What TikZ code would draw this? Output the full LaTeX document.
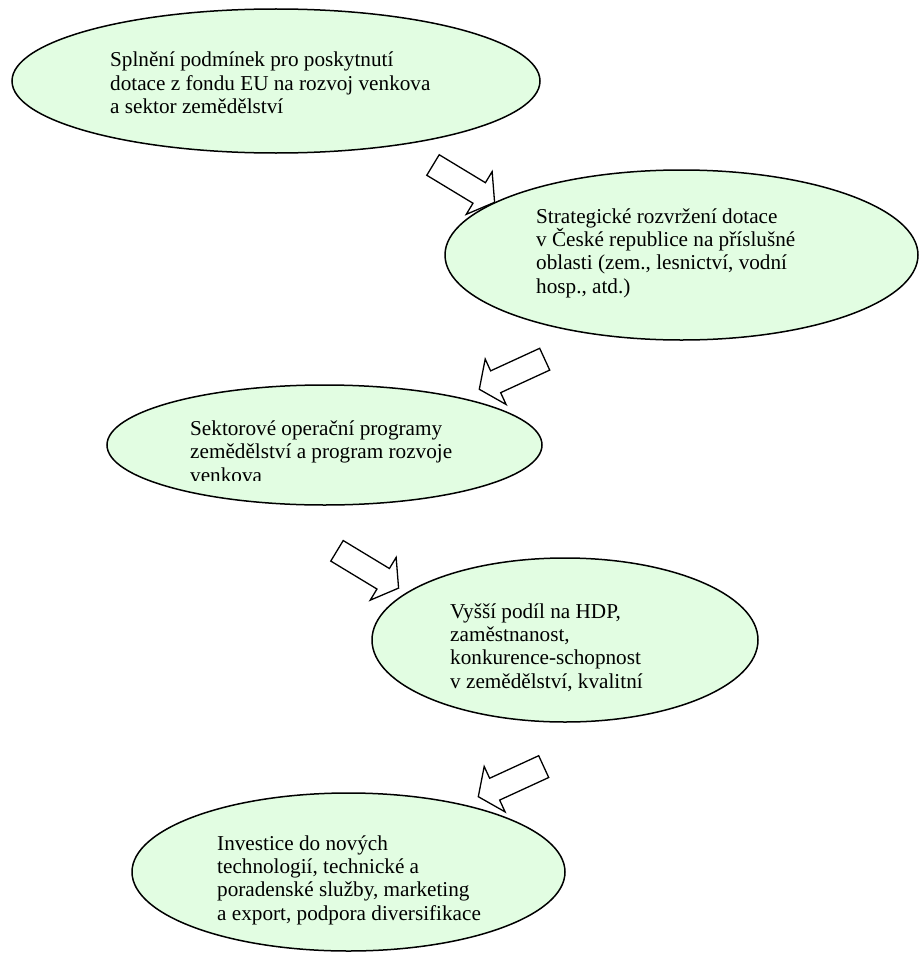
\documentclass[tikz,border=0pt]{standalone}
\usepackage{fontspec}
\setmainfont{Liberation Serif}
\usetikzlibrary{shapes.geometric}
\definecolor{bubblefill}{RGB}{226,253,226}
\tikzset{
  bubble/.style={ellipse, draw=black, line width=1.5pt, fill=bubblefill, inner sep=0pt},
  bubbletext/.style={align=left, inner sep=0pt, anchor=base west, font=\fontsize{21.2}{23.3}\selectfont},
  blockarr/.pic={\draw[line width=1.3pt, fill=white, line join=miter]
     (0,12) -- (54,12) -- (54,25) -- (72,0) -- (54,-25) -- (54,-12) -- (0,-12) -- cycle;}
}
\begin{document}
\begin{tikzpicture}[x=1pt, y=-1pt]
\useasboundingbox (0,0) rectangle (920,958);
% arrow tails
\coordinate (a1) at (433,165);
\coordinate (a2) at (544.7,359.2);
\coordinate (a3) at (337,550.8);
\coordinate (a4) at (543.7,766.6);
\pic[rotate=-31.2] at (a1) {blockarr};
\pic[rotate=204.7] at (a2) {blockarr};
\pic[rotate=-31.2] at (a3) {blockarr};
\pic[rotate=204.7] at (a4) {blockarr};
% ellipses
\node[bubble, minimum width=528pt, minimum height=144pt] (e1) at (276,81) {};
\node[bubble, minimum width=473pt, minimum height=170pt] (e2) at (681.5,255) {};
\node[bubble, minimum width=435pt, minimum height=120pt] (e3) at (324.5,445) {};
\node[bubble, minimum width=386pt, minimum height=164pt] (e4) at (565,640) {};
\node[bubble, minimum width=433pt, minimum height=158pt] (e5) at (348.5,872) {};
% texts (anchor = baseline of last line)
\node[bubbletext] (t1) at (110,113.5) {Splnění podmínek pro poskytnutí\\dotace z fondu EU na rozvoj venkova\\a sektor zemědělství};
\node[bubbletext] (t2) at (536,293) {Strategické rozvržení dotace\\v České republice na příslušné\\oblasti (zem., lesnictví, vodní\\hosp., atd.)};
\begin{scope}
\clip (0,0) rectangle (920,480);
\node[bubbletext] (t3) at (190,482) {Sektorové operační programy\\zemědělství a program rozvoje\\venkova};
\end{scope}
\node[bubbletext] (t4) at (450,688) {Vyšší podíl na HDP,\\zaměstnanost,\\konkurence-schopnost\\v zemědělství, kvalitní};
\node[bubbletext] (t5) at (217,920) {Investice do nových\\technologií, technické a\\poradenské služby, marketing\\a export, podpora diversifikace};
\end{tikzpicture}
\end{document}
